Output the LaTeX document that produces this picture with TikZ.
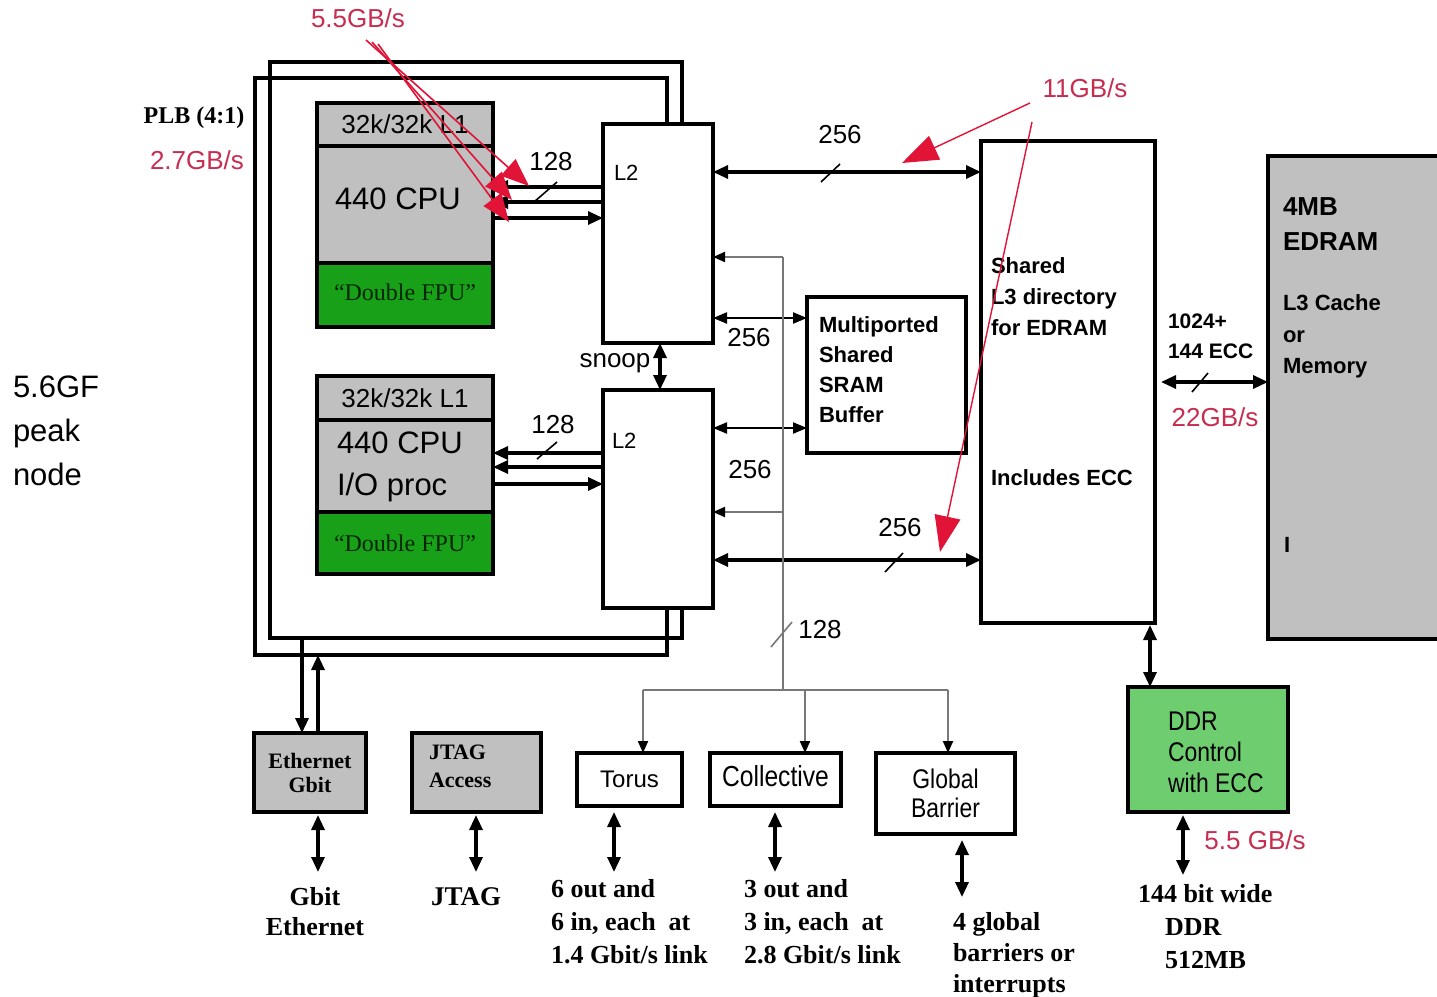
\documentclass[tikz,border=0pt]{standalone}
\usepackage{fontspec}
\setmainfont{Liberation Serif}
\setsansfont{Liberation Sans}
\newfontfamily\narrowsans{Liberation Sans}[FakeStretch=0.85]
\usetikzlibrary{arrows.meta}
\definecolor{boxgray}{RGB}{192,192,192}
\definecolor{fpugreen}{RGB}{25,160,25}
\definecolor{ddrgreen}{RGB}{110,205,110}
\definecolor{ratered}{RGB}{200,45,80}
\definecolor{arrred}{RGB}{225,20,55}
\definecolor{busgray}{RGB}{120,120,120}
\newcommand{\fsz}[2]{\fontsize{#1}{#2}\selectfont}
\begin{document}
\begin{tikzpicture}[x=1pt,y=-1pt,
  every node/.style={inner sep=0pt,outer sep=0pt},
  blk/.style={draw=black,line width=3.3pt,anchor=north west,fill=white},
  frame/.style={draw=black,line width=3.3pt},
  arr/.style={line width=3.2pt,-{Triangle[length=15pt,width=13pt]}},
  dbl/.style={line width=3.2pt,{Triangle[length=15pt,width=13pt]}-{Triangle[length=15pt,width=13pt]}},
  dblthin/.style={line width=2.2pt,{Triangle[length=14pt,width=11pt]}-{Triangle[length=14pt,width=11pt]}},
  thinbus/.style={draw=busgray,line width=2pt},
  busarr/.style={thinbus,-{Triangle[length=12pt,width=10pt,color=black]}},
  slash/.style={line width=1.6pt},
  redarr/.style={draw=arrred,line width=1.6pt,-{Triangle[length=28pt,width=22pt]}},
  redarrbig/.style={draw=arrred,line width=1.4pt,-{Triangle[length=36pt,width=26pt]}},
  ratetxt/.style={font=\sffamily\fsz{26}{30},text=ratered},
  num/.style={font=\sffamily\fsz{26}{28}},
  bsf/.style={font=\sffamily\bfseries,align=left,anchor=north west},
  sertxt/.style={font=\bfseries\fsz{26}{33},align=left,anchor=north west}
]
\clip (0,0) rectangle (1437,996);
\fill[white] (0,0) rectangle (1437,996);

% PLB frames
\draw[frame] (682,123) -- (682,62) -- (270,62) -- (270,638) -- (682,638) -- (682,609);
\draw[frame] (667,123) -- (667,78) -- (255,78) -- (255,655) -- (667,655) -- (667,609);

% CPU 1
\node[blk,fill=boxgray,minimum width=176pt,minimum height=43pt,font=\sffamily\fsz{26}{30}] (l1a) at (317,103) {32k/32k L1};
\node[blk,fill=boxgray,minimum width=176pt,minimum height=117pt] (cpu1) at (317,146) {};
\node[blk,fill=fpugreen,minimum width=176pt,minimum height=64pt,font=\fsz{24}{26},text=black!85!green] (fpu1) at (317,263) {\raisebox{6pt}{“Double FPU”}};
\node[font=\sffamily\fsz{31}{42},anchor=west] (cpu1t) at (335,199) {440 CPU};

% CPU 2
\node[blk,fill=boxgray,minimum width=176pt,minimum height=44pt,font=\sffamily\fsz{26}{30}] (l1b) at (317,376) {32k/32k L1};
\node[blk,fill=boxgray,minimum width=176pt,minimum height=92pt] (cpu2) at (317,420) {};
\node[blk,fill=fpugreen,minimum width=176pt,minimum height=62pt,font=\fsz{24}{26},text=black!85!green] (fpu2) at (317,512) {“Double FPU”};
\node[font=\sffamily\fsz{31}{42},align=left,anchor=north west] (cpu2t) at (337,432) {440 CPU\\I/O proc};

% L2 boxes
\node[blk,minimum width=110pt,minimum height=219pt] (l2a) at (603,124) {};
\node[blk,minimum width=110pt,minimum height=218pt] (l2b) at (603,390) {};
\node[font=\sffamily\fsz{22}{26},anchor=west] (l2at) at (614,173) {L2};
\node[font=\sffamily\fsz{22}{26},anchor=west] (l2bt) at (612,441) {L2};

% SRAM, L3, EDRAM
\node[blk,minimum width=159pt,minimum height=156pt] (sram) at (807,297) {};
\node[bsf,font=\sffamily\bfseries\fsz{22}{30}] (sramt) at (819,317) {Multiported\\Shared\\SRAM\\Buffer};
\node[blk,minimum width=174pt,minimum height=482pt] (l3) at (981,141) {};
\node[bsf,font=\sffamily\bfseries\fsz{22}{31}] (l3t) at (991,258) {Shared\\L3 directory\\for EDRAM};
\node[font=\sffamily\bfseries\fsz{22}{26},anchor=west] (l3ecc) at (991,478) {Includes ECC};
\node[blk,fill=boxgray,minimum width=185pt,minimum height=483pt] (edram) at (1268,156) {};
\node[bsf,font=\sffamily\bfseries\fsz{26}{35}] (edt1) at (1283,198) {4MB\\EDRAM};
\node[bsf,font=\sffamily\bfseries\fsz{22}{31.5}] (edt2) at (1283,295) {L3 Cache\\or\\Memory};
\node[font=\sffamily\bfseries\fsz{22}{26},anchor=west] (edt3) at (1284,545) {I};
\node[bsf,font=\sffamily\bfseries\fsz{21}{30}] (eccw) at (1168,314) {1024+\\144 ECC};

% DDR
\node[blk,fill=ddrgreen,minimum width=160pt,minimum height=125pt] (ddr) at (1128,687) {};
\node[align=left,anchor=north west,font=\narrowsans\fsz{27}{31}] (ddrt) at (1168,712) {DDR\\Control\\with ECC};
\node[sertxt] (ddrmem) at (1138,884) {144 bit wide\\\hspace*{27pt}DDR\\\hspace*{27pt}512MB};

% bottom boxes
\node[blk,fill=boxgray,minimum width=112pt,minimum height=79pt,font=\bfseries\fsz{22}{24},align=center] (eth) at (254,733) {Ethernet\\Gbit};
\node[blk,fill=boxgray,minimum width=129pt,minimum height=79pt] (jtag) at (412,733) {};
\node[font=\bfseries\fsz{22}{28},align=left,anchor=north west] (jtagt) at (429,745) {JTAG\\Access};
\node[blk,minimum width=105pt,minimum height=53pt,font=\sffamily\fsz{24}{28}] (torus) at (577,753) {Torus};
\node[blk,minimum width=131pt,minimum height=53pt,font=\narrowsans\fsz{29}{30}] (coll) at (710,753) {\raisebox{8pt}{Collective}};
\node[blk,minimum width=139pt,minimum height=81pt,font=\narrowsans\fsz{27}{29},align=center] (glob) at (876,753) {Global\\Barrier};

% bottom texts
\node[font=\bfseries\fsz{26}{30},align=center] (gbe) at (315,912) {Gbit\\Ethernet};
\node[font=\bfseries\fsz{27}{30}] (jtago) at (466,897) {JTAG};
\node[sertxt] (torust) at (551,879) {6 out and\\6 in, each\ \ at\\1.4 Gbit/s link};
\node[sertxt] (collt) at (744,879) {3 out and\\3 in, each\ \ at\\2.8 Gbit/s link};
\node[sertxt,font=\bfseries\fsz{26}{31}] (globt) at (953,912) {4 global\\barriers or\\interrupts};

% left texts
\node[font=\sffamily\fsz{31}{44},align=left,anchor=north west] (peak) at (13,376) {5.6GF\\peak\\node};
\node[font=\bfseries\fsz{24}{26}] (plb) at (194,118) {PLB (4:1)};
\node[ratetxt] (r27) at (197,160) {2.7GB/s};

% CPU <-> L2 arrows
\draw[arr] (l2a.west |- 0,187) -- (cpu1.east |- 0,187);
\draw[arr] (l2a.west |- 0,202) -- (cpu1.east |- 0,202);
\draw[arr] (cpu1.east |- 0,218) -- (l2a.west |- 0,218);
\draw[slash] (534,202) -- (557,182);
\node[num] (n128a) at (551,162) {128};
\draw[arr] (l2b.west |- 0,453) -- (cpu2.east |- 0,453);
\draw[arr] (l2b.west |- 0,467) -- (cpu2.east |- 0,467);
\draw[arr] (cpu2.east |- 0,484) -- (l2b.west |- 0,484);
\draw[slash] (537,459) -- (557,442);
\node[num] (n128b) at (553,425) {128};

% snoop
\draw[dbl] (l2a.south -| 660,0) -- (l2b.north -| 660,0);
\node[num,anchor=base] (snoop) at (615,367) {snoop};

% L2 <-> L3 and SRAM
\draw[dbl] (l2a.east |- 0,172) -- (l3.west |- 0,172);
\draw[slash] (821,182) -- (840,164);
\node[num] (n256a) at (840,135) {256};
\draw[dblthin] (l2a.east |- 0,318) -- (sram.west |- 0,318);
\node[num] (n256b) at (749,338) {256};
\draw[dblthin] (l2b.east |- 0,428) -- (sram.west |- 0,428);
\node[num] (n256c) at (750,470) {256};
\draw[dbl] (l2b.east |- 0,560) -- (l3.west |- 0,560);
\draw[slash] (885,572) -- (903,553);
\node[num] (n256d) at (900,528) {256};

% L3 <-> EDRAM
\draw[dbl] ([xshift=6pt]l3.east |- 0,382) -- (edram.west |- 0,382);
\draw[slash] (1192,392) -- (1208,373);
\node[ratetxt] (r22) at (1215,417) {22GB/s};

% L3 <-> DDR
\draw[dbl,shorten <=2pt] (l3.south -| 1150,0) -- (ddr.north -| 1150,0);
\coordinate (ddrout) at (1183,875);
\draw[dbl,shorten <=3pt] (ddr.south -| ddrout) -- (ddrout);
\node[ratetxt] (r55b) at (1255,840) {5.5 GB/s};

% bus
\coordinate (busTop) at (783,257);
\coordinate (busTap) at (783,512);
\coordinate (busJ) at (783,690);
\coordinate (busL) at (643,690);
\coordinate (busC) at (805,690);
\coordinate (busR) at (948,690);
\draw[thinbus] (busJ) -- (busTop);
\draw[busarr] (busTop) -- (l2a.east |- busTop);
\draw[busarr] (busTap) -- (l2b.east |- busTap);
\draw[thinbus] (busL) -- (busR);
\draw[busarr] (busL) -- (torus.north -| busL);
\draw[busarr] (busC) -- (coll.north -| busC);
\draw[busarr] (busR) -- (glob.north -| busR);
\draw[slash,busgray] (771,647) -- (792,622);
\node[num] (n128c) at (820,630) {128};

% Ethernet <-> PLB
\coordinate (frAbot) at (302,638);
\coordinate (frBbot) at (318,655);
\draw[arr] (frAbot) -- (eth.north -| frAbot);
\draw[arr] (eth.north -| frBbot) -- (frBbot);

% bottom double arrows
\coordinate (ethout) at (318,872);
\coordinate (jtagout) at (476,872);
\coordinate (torout) at (614,872);
\coordinate (collout) at (775,872);
\coordinate (globout) at (962,897);
\draw[dbl,shorten <=3pt] (eth.south -| ethout) -- (ethout);
\draw[dbl,shorten <=3pt] (jtag.south -| jtagout) -- (jtagout);
\draw[dbl,shorten <=6pt] (torus.south -| torout) -- (torout);
\draw[dbl,shorten <=6pt] (coll.south -| collout) -- (collout);
\draw[dbl,shorten <=6pt] (glob.south -| globout) -- (globout);

% red bandwidth annotations
\node[ratetxt] (r55) at (358,18) {5.5GB/s};
\coordinate (r55s1) at (366,40);
\coordinate (r55s2) at (372,42);
\coordinate (r55s3) at (378,44);
\coordinate (r55e1) at (529,186);
\coordinate (r55e2) at (512,200);
\coordinate (r55e3) at (509,222);
\draw[redarr] (r55s1) -- (r55e1);
\draw[redarr] (r55s2) -- (r55e2);
\draw[redarr] (r55s3) -- (r55e3);
\node[ratetxt] (r11) at (1085,88) {11GB/s};
\coordinate (r11s1) at (1030,103);
\coordinate (r11e1) at (902,163);
\coordinate (r11s2) at (1032,122);
\coordinate (r11e2) at (940,552);
\draw[redarrbig] (r11s1) -- (r11e1);
\draw[redarrbig] (r11s2) -- (r11e2);
\end{tikzpicture}
\end{document}
